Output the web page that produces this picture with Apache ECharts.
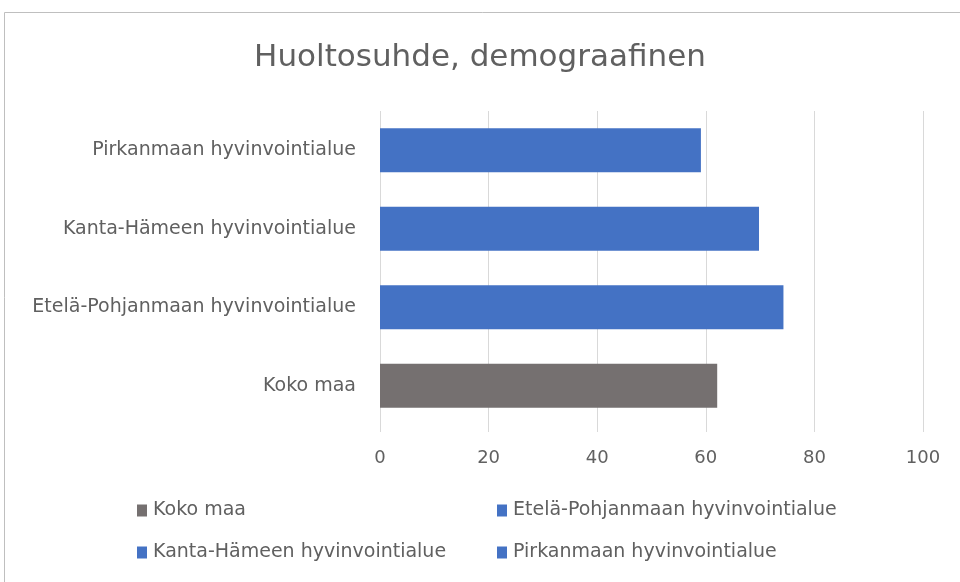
<!DOCTYPE html>
<html>
<head>
<meta charset="utf-8">
<script src="https://cdn.jsdelivr.net/npm/echarts@6/dist/echarts.min.js"></script>
<style>
  html, body { margin: 0; padding: 0; background: #fff; }
  #chart { width: 960px; height: 582px; }
</style>
</head>
<body>
<div id="chart"></div>
<script>
// kategoriat alhaalta ylös
const categories = ['Koko maa', 'Etelä-Pohjanmaan hyvinvointialue', 'Kanta-Hämeen hyvinvointialue', 'Pirkanmaan hyvinvointialue'];
const values = [62.1, 74.3, 69.8, 59.1];
const colors = ['#757070', '#4472C4', '#4472C4', '#4472C4'];
const xTicks = [0, 20, 40, 60, 80, 100];

const font = 'DejaVu Sans';
const textColor = '#606060';

const chart = echarts.init(document.getElementById('chart'));

// jokainen alue omana sarjanaan, jotta selite näyttää alueet
const series = categories.map((name, i) => ({
    name: name,
    type: 'bar',
    stack: 'all',
    barWidth: 44,
    itemStyle: { color: colors[i] },
    data: categories.map((c, j) => (j === i ? values[i] : '-'))
}));

const legendPos = [
    { left: 132, top: 496 },
    { left: 492, top: 496 },
    { left: 132, top: 538 },
    { left: 492, top: 538 }
];

chart.setOption({
    animation: false,
    title: {
        text: 'Huoltosuhde, demograafinen',
        left: 'center',
        top: 37,
        textStyle: { fontFamily: font, fontSize: 31, fontWeight: 'normal', color: textColor }
    },
    legend: legendPos.map((p, i) => ({
        data: [categories[i]],
        left: p.left,
        top: p.top,
        icon: 'rect',
        itemWidth: 10,
        itemHeight: 12,
        itemGap: 6,
        textStyle: { fontFamily: font, fontSize: 19, color: textColor, padding: [0, 0, 0, 1] }
    })),
    graphic: [{
        type: 'rect',
        shape: { x: 4.5, y: 12.5, width: 1000, height: 700 },
        style: { fill: 'none', stroke: '#bfbfbf', lineWidth: 1 },
        silent: true
    }],
    grid: { left: 380, right: 37, top: 111, bottom: 157 },
    xAxis: {
        type: 'value',
        min: xTicks[0],
        max: xTicks[xTicks.length - 1],
        interval: 20,
        axisLine: { show: false },
        axisTick: { show: true, length: 7, lineStyle: { color: '#d9d9d9' } },
        axisLabel: { margin: 24, fontFamily: font, fontSize: 18, color: textColor },
        splitLine: { lineStyle: { color: '#d9d9d9', width: 1 } }
    },
    yAxis: {
        type: 'category',
        data: categories,
        axisLine: { show: false },
        axisTick: { show: false },
        axisLabel: { margin: 24, fontFamily: font, fontSize: 19, color: textColor }
    },
    series: series
});
</script>
</body>
</html>
